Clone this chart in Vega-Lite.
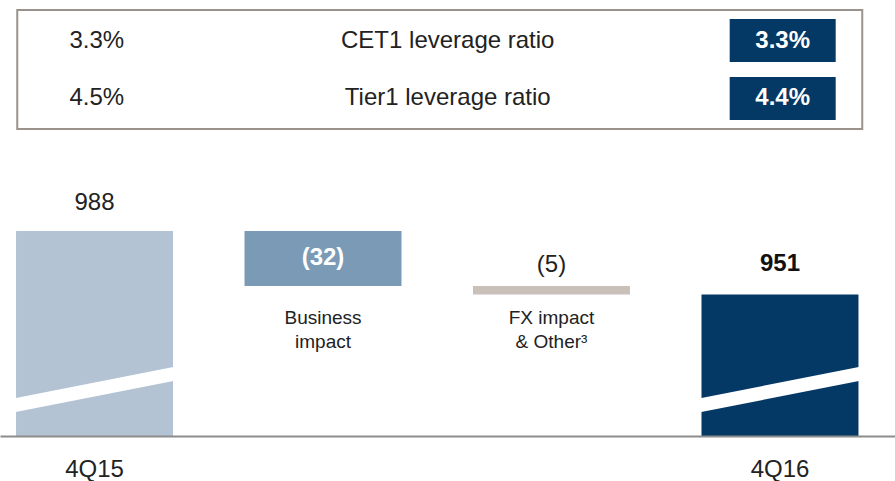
{
  "$schema": "https://vega.github.io/schema/vega-lite/v6.json",
  "background": "white",
  "padding": {"left": 0, "top": 9, "right": 0, "bottom": 0},
  "spacing": 50,
  "center": true,
  "config": {"font": "Liberation Sans", "view": {"stroke": null}},
  "vconcat": [
    {
      "width": 845,
      "height": 119,
      "view": {"stroke": "#9b928b", "strokeWidth": 2},
      "data": {"values": [
        {"metric": "CET1 leverage ratio", "prev": "3.3%", "curr": "3.3%"},
        {"metric": "Tier1 leverage ratio", "prev": "4.5%", "curr": "4.4%"}
      ]},
      "encoding": {
        "y": {"field": "metric", "type": "nominal", "sort": null,
              "scale": {"type": "point", "padding": 0.526},
              "axis": {"orient": "right", "offset": 14.5, "domainColor": "white", "ticks": false, "labels": false, "title": null, "grid": false}}
      },
      "layer": [
        {"mark": {"type": "text", "fontSize": 24, "color": "#222222"},
         "encoding": {"x": {"datum": "4Q15", "type": "nominal", "scale": {"type": "point", "domain": ["4Q15", "metric", "4Q16"], "padding": 0.232}, "axis": null},
                      "text": {"field": "prev"}}},
        {"mark": {"type": "text", "fontSize": 24, "color": "#222222", "dx": 8},
         "encoding": {"x": {"datum": "metric", "type": "nominal"},
                      "text": {"field": "metric"}}},
        {"mark": {"type": "rect", "width": 106, "height": 43, "color": "#043865"},
         "encoding": {"x": {"datum": "4Q16", "type": "nominal"}}},
        {"mark": {"type": "text", "fontSize": 24, "fontWeight": "bold", "color": "white"},
         "encoding": {"x": {"datum": "4Q16", "type": "nominal"},
                      "text": {"field": "curr"}}}
      ]
    },
    {
      "width": 895,
      "height": 256,
      "data": {"values": [
        {"cat": "4Q15", "start": 0, "end": 988, "label": "988"},
        {"cat": "Business impact", "start": 988, "end": 956, "label": "(32)", "desc": ["Business", "impact"]},
        {"cat": "FX impact & Other³", "start": 956, "end": 951, "label": "(5)", "desc": ["FX impact", "& Other³"]},
        {"cat": "4Q16", "start": 0, "end": 951, "label": "951"}
      ]},
      "encoding": {
        "x": {"field": "cat", "type": "nominal", "sort": null,
              "scale": {"paddingInner": 0.313, "paddingOuter": 0.115, "align": 0.305},
              "axis": {"orient": "bottom", "title": null, "ticks": false, "domainColor": "#8c8c8c", "domainWidth": 2,
                       "labelFontSize": 24, "labelColor": "#222222", "labelPadding": 21, "labelAngle": 0,
                       "labelFont": "Liberation Sans", "zindex": 1,
                       "labelExpr": "datum.value == '4Q15' || datum.value == '4Q16' ? datum.value : ''"}}
      },
      "layer": [
        {"mark": {"type": "bar", "clip": true},
         "encoding": {
           "y": {"field": "end", "type": "quantitative", "scale": {"domain": [868.8, 1017.6], "nice": false, "zero": false}, "axis": null},
           "y2": {"field": "start"},
           "color": {"field": "cat", "type": "nominal", "sort": null,
                     "scale": {"domain": ["4Q15", "Business impact", "FX impact & Other³", "4Q16"],
                               "range": ["#b3c3d3", "#7a9ab5", "#c9c0b9", "#043865"]},
                     "legend": null}
         }},
        {"mark": {"type": "rule", "stroke": "white", "strokeWidth": 13.7, "strokeCap": "square"},
         "transform": [{"filter": "datum.start == 0"}],
         "encoding": {
           "x": {"field": "cat", "type": "nominal", "bandPosition": 0},
           "x2": {"field": "cat", "bandPosition": 1},
           "y": {"datum": 886.8, "type": "quantitative"},
           "y2": {"datum": 904.8}
         }},
        {"mark": {"type": "text", "fontSize": 24, "color": "#222222", "dy": -28},
         "transform": [{"filter": "datum.cat == '4Q15'"}],
         "encoding": {"y": {"field": "end", "type": "quantitative"}, "text": {"field": "label"}}},
        {"mark": {"type": "text", "fontSize": 24, "fontWeight": "bold", "color": "#111111", "dy": -31},
         "transform": [{"filter": "datum.cat == '4Q16'"}],
         "encoding": {"y": {"field": "end", "type": "quantitative"}, "text": {"field": "label"}}},
        {"mark": {"type": "text", "fontSize": 24, "fontWeight": "bold", "color": "white", "dy": 27.5},
         "transform": [{"filter": "datum.cat == 'Business impact'"}],
         "encoding": {"y": {"field": "start", "type": "quantitative"}, "text": {"field": "label"}}},
        {"mark": {"type": "text", "fontSize": 24, "color": "#222222", "dy": -21},
         "transform": [{"filter": "datum.cat == 'FX impact & Other³'"}],
         "encoding": {"y": {"field": "start", "type": "quantitative"}, "text": {"field": "label"}}},
        {"mark": {"type": "text", "fontSize": 19, "color": "#222222", "dy": 32, "lineHeight": 24},
         "transform": [{"filter": "datum.desc != null"}],
         "encoding": {"y": {"datum": 956, "type": "quantitative"}, "text": {"field": "desc"}}}
      ]
    }
  ]
}
